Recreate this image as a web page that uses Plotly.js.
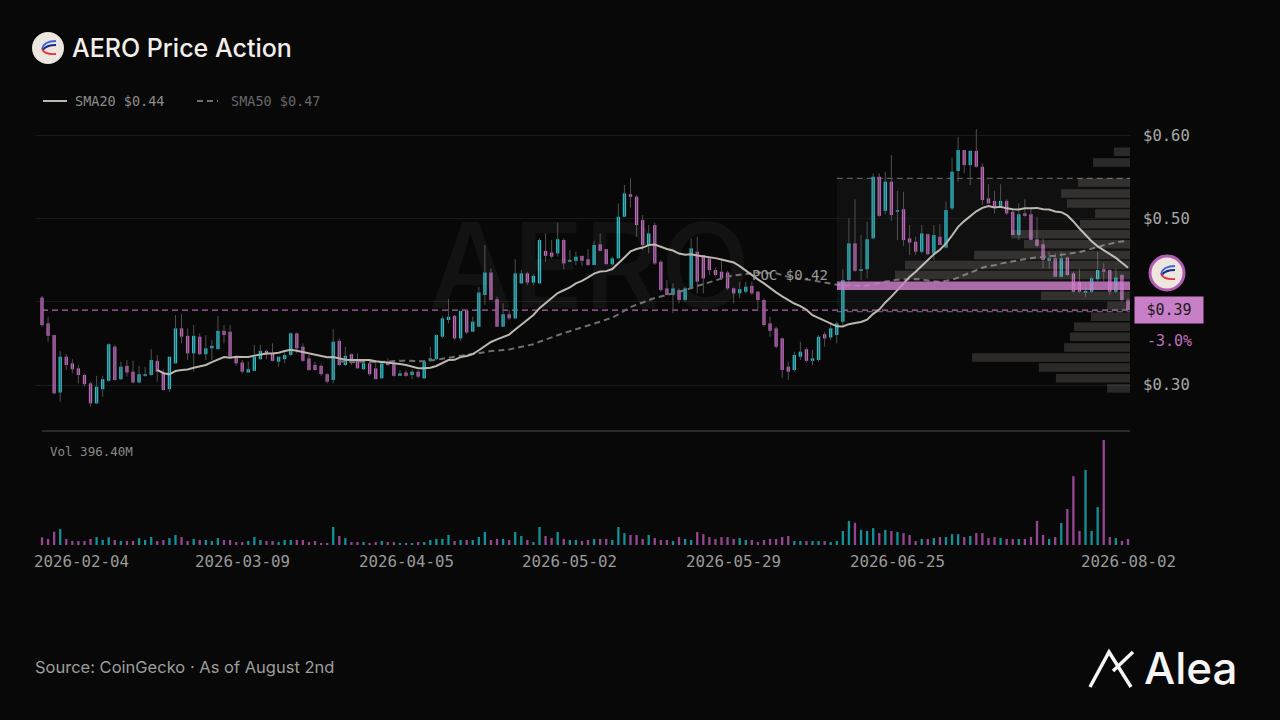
<!DOCTYPE html>
<html><head><meta charset="utf-8">
<script src="https://cdn.plot.ly/plotly-3.0.1.min.js"></script>
<style>html,body{margin:0;padding:0;background:#080808;}#chart{width:1280px;height:720px;}</style>
</head><body><div id="chart"></div>
<script>
// ---------- data ----------
const startDate = '2026-02-04';
const open = [.405,.374,.360,.291,.334,.326,.320,.312,.302,.278,
.295,.305,.346,.307,.323,.316,.303,.311,.312,.329,
.315,.295,.326,.368,.359,.338,.358,.337,.344,.343,
.365,.364,.334,.327,.315,.317,.331,.341,.338,.328,
.331,.336,.362,.346,.332,.324,.323,.313,.306,.353,
.324,.337,.331,.319,.326,.320,.308,.328,.326,.311,
.315,.312,.316,.308,.329,.331,.358,.378,.383,.356,
.389,.364,.370,.408,.435,.403,.370,.385,.380,.422,
.434,.423,.422,.461,.459,.458,.474,.448,.449,.455,
.451,.444,.469,.463,.445,.452,.502,.529,.526,.498,
.468,.492,.448,.416,.408,.414,.402,.416,.460,.456,
.452,.438,.436,.435,.416,.410,.412,.419,.412,.402,
.374,.368,.356,.322,.318,.334,.343,.329,.330,.361,
.357,.360,.376,.426,.470,.437,.439,.476,.550,.509,
.544,.508,.511,.476,.472,.460,.481,.458,.478,.465,
.512,.557,.582,.564,.581,.562,.524,.521,.515,.521,
.508,.480,.506,.505,.475,.469,.449,.452,.430,.453,
.434,.424,.411,.412,.427,.439,.438,.412,.432,.402];
const high = [.407,.382,.360,.341,.337,.331,.324,.314,.304,.311,
.311,.350,.348,.328,.330,.329,.323,.322,.343,.336,
.319,.334,.384,.385,.368,.372,.362,.360,.354,.383,
.372,.372,.334,.330,.328,.348,.348,.342,.350,.334,
.340,.363,.363,.350,.336,.328,.325,.314,.367,.356,
.346,.338,.338,.330,.329,.328,.328,.332,.329,.318,
.318,.319,.318,.330,.346,.361,.383,.403,.384,.389,
.390,.382,.418,.468,.440,.406,.398,.390,.451,.438,
.436,.433,.476,.482,.474,.495,.476,.462,.460,.455,
.463,.473,.482,.463,.454,.518,.540,.548,.528,.504,
.492,.495,.450,.426,.422,.416,.418,.476,.478,.456,
.454,.441,.450,.437,.417,.424,.424,.424,.413,.404,
.382,.370,.357,.328,.340,.352,.345,.342,.360,.364,
.374,.376,.439,.500,.523,.480,.496,.554,.554,.556,
.576,.533,.532,.492,.478,.492,.482,.492,.493,.520,
.573,.598,.582,.582,.607,.566,.541,.533,.541,.523,
.512,.518,.523,.512,.502,.476,.460,.458,.460,.454,
.436,.439,.424,.430,.460,.446,.439,.440,.434,.404];
const low = [.370,.352,.289,.280,.318,.314,.302,.298,.274,.277,
.286,.304,.305,.306,.310,.302,.302,.310,.311,.304,
.293,.292,.326,.350,.330,.316,.336,.330,.330,.343,
.350,.334,.323,.314,.315,.317,.330,.331,.328,.322,
.326,.335,.338,.328,.317,.317,.311,.302,.302,.323,
.323,.324,.320,.318,.311,.307,.308,.323,.310,.311,
.310,.307,.308,.307,.328,.330,.356,.374,.354,.353,
.361,.364,.370,.396,.402,.370,.370,.378,.380,.422,
.420,.420,.422,.448,.452,.454,.439,.448,.444,.443,
.443,.444,.461,.445,.443,.452,.502,.513,.478,.462,
.458,.444,.412,.408,.386,.398,.400,.414,.410,.410,
.432,.430,.426,.414,.398,.404,.410,.408,.391,.370,
.358,.344,.308,.306,.316,.330,.327,.324,.328,.346,
.354,.350,.372,.424,.436,.426,.428,.476,.502,.505,
.497,.474,.467,.456,.456,.458,.456,.450,.468,.464,
.510,.544,.554,.540,.561,.516,.518,.506,.514,.504,
.480,.474,.502,.474,.466,.440,.440,.430,.429,.431,
.411,.410,.406,.411,.424,.424,.408,.410,.400,.388];
const close = [.372,.359,.290,.334,.324,.319,.312,.301,.278,.298,
.307,.349,.306,.322,.315,.303,.313,.313,.330,.316,
.294,.334,.368,.358,.338,.359,.337,.344,.347,.365,
.360,.334,.326,.316,.319,.334,.341,.337,.329,.334,
.336,.362,.344,.329,.318,.318,.313,.304,.352,.324,
.335,.330,.320,.326,.313,.307,.326,.324,.311,.314,
.311,.316,.310,.328,.332,.360,.380,.382,.356,.389,
.363,.376,.411,.435,.402,.370,.385,.380,.434,.434,
.423,.431,.474,.455,.454,.475,.446,.450,.454,.449,
.444,.468,.461,.445,.452,.502,.530,.526,.492,.468,
.482,.446,.414,.408,.416,.402,.416,.464,.424,.428,
.438,.432,.428,.416,.410,.415,.418,.410,.402,.372,
.365,.346,.318,.316,.336,.340,.329,.332,.358,.356,
.368,.374,.426,.470,.437,.439,.475,.550,.503,.544,
.504,.509,.474,.471,.460,.482,.457,.480,.468,.510,
.556,.582,.564,.581,.562,.522,.518,.514,.521,.506,
.480,.505,.503,.474,.467,.450,.452,.430,.452,.432,
.412,.412,.413,.428,.438,.436,.412,.429,.402,.390];
// daily volume, millions
const volume = [29,23,50,60,23,15,15,15,23,30,
19,29,19,15,15,15,26,19,30,15,
19,26,38,30,15,23,19,19,15,26,
19,19,11,11,15,30,19,15,15,11,
19,19,19,19,11,15,7.5,7.5,68,34,
26,11,11,11,7.5,11,15,11,11,7.5,
7.5,7.5,11,11,19,23,23,38,15,19,
19,19,30,49,19,23,23,19,49,34,
19,11,68,34,26,49,23,19,19,15,
19,23,23,23,19,68,45,38,38,23,
38,26,19,19,15,30,23,19,49,41,
30,23,30,30,23,26,19,19,11,19,
23,23,30,34,15,15,15,15,15,15,
11,15,53,91,84,57,53,64,45,57,
53,49,45,38,15,23,23,26,30,30,
41,41,30,34,45,45,26,30,26,23,
23,23,23,30,91,38,23,30,83,136,
260,53,283,53,143,396.4,30,26,15,23];
// volume profile (price bin centre, relative volume)
const profilePrice = [0.580,0.567,0.555,0.543,0.530,0.518,0.506,0.493,0.481,0.469,0.456,0.444,0.432,0.419,0.407,0.395,0.382,0.370,0.358,0.345,0.333,0.321,0.308,0.296];
const profileVol = [5.5,12.6,0,17.7,23.5,21.5,11.9,17.1,40.6,36.2,53.2,76.8,80.2,100,30.4,7.8,13.3,19.1,20.5,22.5,53.9,31.1,25.3,7.8];
const tickDates = ['2026-02-04','2026-03-09','2026-04-05','2026-05-02','2026-05-29','2026-06-25','2026-08-02'];
const priceTicks = [0.30,0.40,0.50,0.60];
const priceTickText = ['$0.30','','$0.50','$0.60'];
const lastPrice = 0.39;
const changeText = '-3.0%';
const pocLabel = 'POC $0.42';
const valueAreaHigh = 0.548, valueAreaLow = 0.388;
const valueAreaStart = '2026-06-15';
const sma20Label = 'SMA20 $0.44', sma50Label = 'SMA50 $0.47';
const volLabel = 'Vol 396.40M';

// ---------- derived ----------
const DAY = 86400000;
const d0 = Date.parse(startDate + 'T00:00:00Z');
const dates = close.map((_, i) => new Date(d0 + i * DAY).toISOString().slice(0, 10));
const up = close.map((c, i) => c >= open[i]);
function sma(arr, n) { return arr.map((v, i) => i < n - 1 ? null : arr.slice(i - n + 1, i + 1).reduce((a, b) => a + b, 0) / n); }
const sma20 = sma(close, 20), sma50 = sma(close, 50);
const wx = [], wy = [];
dates.forEach((d, i) => { wx.push(d, d, null); wy.push(low[i], high[i], null); });
const bodyBase = open.map((o, i) => Math.min(o, close[i]));
const bodyLen = open.map((o, i) => Math.max(Math.abs(close[i] - o), 0.0018));
const CY = '#1cc3cf', PK = '#c462bf';
const pocIdx = profileVol.indexOf(Math.max(...profileVol));

// ---------- layout geometry ----------
const W = 1280, H = 720, ML = 36, MR = 150, MT = 120, MB = 175;
const PW = W - ML - MR, PH = H - MT - MB;
const px = x => (x - ML) / PW;
const py = y => (H - MB - y) / PH;
const xRange = [new Date(d0 - 0.989 * DAY).toISOString(), new Date(d0 + 179.33 * DAY).toISOString()];
const MONO = 'DejaVu Sans Mono';
const SANS = 'Inter';

const data = [
  {type: 'scatter', mode: 'lines', x: wx, y: wy, xaxis: 'x', yaxis: 'y', line: {color: '#505050', width: 1}, hoverinfo: 'skip'},
  {type: 'bar', x: dates, y: bodyLen, base: bodyBase, xaxis: 'x', yaxis: 'y', width: 0.55 * DAY,
   marker: {color: up.map(u => u ? CY : PK), line: {width: 0}}},
  {type: 'scatter', mode: 'lines', x: dates, y: sma50, xaxis: 'x', yaxis: 'y', line: {color: '#6e6e6e', width: 2, dash: '6px,4px'}},
  {type: 'scatter', mode: 'lines', x: dates, y: sma20, xaxis: 'x', yaxis: 'y', line: {color: '#bcb7af', width: 2}},
  {type: 'bar', x: dates, y: volume, xaxis: 'x', yaxis: 'y2', width: 0.38 * DAY,
   marker: {color: up.map(u => u ? 'rgba(22,180,190,0.8)' : 'rgba(185,85,180,0.8)'), line: {width: 0}}},
  {type: 'bar', orientation: 'h', x: profileVol, y: profilePrice, xaxis: 'x3', yaxis: 'y', width: 0.0102,
   marker: {color: profileVol.map((v, i) => i === pocIdx ? 'rgba(206,128,202,0.82)' : 'rgba(225,215,205,0.17)'), line: {width: 0}}}
];

function logoShapes(cx, cy) {
  const P = (x, y) => px(x) + ',' + py(y);
  return [
    {type: 'path', xref: 'paper', yref: 'paper', path: 'M ' + P(cx + 8, cy - 7) + ' Q ' + P(cx - 4, cy - 7) + ' ' + P(cx - 6, cy + 1), line: {color: '#3d66e0', width: 1.8}},
    {type: 'path', xref: 'paper', yref: 'paper', path: 'M ' + P(cx + 8, cy - 3) + ' Q ' + P(cx - 2, cy - 3) + ' ' + P(cx - 5, cy + 2), line: {color: '#1b2c80', width: 1.8}},
    {type: 'path', xref: 'paper', yref: 'paper', path: 'M ' + P(cx + 8, cy + 6) + ' Q ' + P(cx - 3, cy + 7) + ' ' + P(cx - 6, cy + 1), line: {color: '#e2363c', width: 1.8}}
  ];
}
const P = (x, y) => px(x) + ',' + py(y);

const shapes = [
  {type: 'rect', xref: 'x', yref: 'y', x0: valueAreaStart, x1: xRange[1], y0: valueAreaLow, y1: valueAreaHigh, fillcolor: 'rgba(255,255,255,0.035)', line: {width: 0}, layer: 'below'},
  {type: 'line', xref: 'x', yref: 'y', x0: valueAreaStart, x1: xRange[1], y0: valueAreaHigh, y1: valueAreaHigh, line: {color: '#5e5e5e', width: 1.2, dash: '6px,4px'}, layer: 'below'},
  {type: 'line', xref: 'x', yref: 'y', x0: valueAreaStart, x1: xRange[1], y0: valueAreaLow, y1: valueAreaLow, line: {color: '#5e5e5e', width: 1.2, dash: '6px,4px'}, layer: 'below'},
  {type: 'line', xref: 'paper', yref: 'y', x0: px(42), x1: 1, y0: lastPrice, y1: lastPrice, line: {color: '#b065ad', width: 1.2, dash: '6px,4px'}, layer: 'below'},
  {type: 'line', xref: 'paper', yref: 'paper', x0: px(42), x1: 1, y0: py(431), y1: py(431), line: {color: '#2b2b2b', width: 2}},
  {type: 'line', xref: 'paper', yref: 'paper', x0: px(43), x1: px(67), y0: py(101), y1: py(101), line: {color: '#bcb7af', width: 2}},
  {type: 'line', xref: 'paper', yref: 'paper', x0: px(197), x1: px(218), y0: py(101), y1: py(101), line: {color: '#6e6e6e', width: 2, dash: '6px,4px'}},
  {type: 'circle', xref: 'paper', yref: 'paper', x0: px(32), x1: px(64), y0: py(64), y1: py(32), fillcolor: '#ece6df', line: {width: 0}},
  ...logoShapes(48, 48),
  {type: 'circle', xref: 'paper', yref: 'paper', x0: px(1150), x1: px(1184), y0: py(290), y1: py(256), fillcolor: '#ece6df', line: {color: '#b35cb0', width: 3}},
  ...logoShapes(1167, 273),
  {type: 'path', xref: 'paper', yref: 'paper', path: 'M ' + P(1090, 687) + ' L ' + P(1109, 652) + ' L ' + P(1131, 687), line: {color: '#f5f5f5', width: 3.5}},
  {type: 'path', xref: 'paper', yref: 'paper', path: 'M ' + P(1113, 671) + ' L ' + P(1133, 652), line: {color: '#f5f5f5', width: 3.5}}
];

const ann = (o) => Object.assign({showarrow: false, xref: 'paper', yref: 'paper'}, o);
const annotations = [
  ann({text: 'AERO', x: px(590), y: py(265), xanchor: 'center', yanchor: 'middle', font: {family: SANS, size: 118, color: 'rgba(255,255,255,0.045)', weight: 500}}),
  ann({text: 'AERO Price Action', x: px(70), y: py(48), xanchor: 'left', yanchor: 'middle', font: {family: SANS, size: 25, color: '#f2efea', weight: 500}}),
  ann({text: sma20Label, x: px(73), y: py(101), xanchor: 'left', yanchor: 'middle', font: {family: MONO, size: 13.5, color: '#8c8c8c'}}),
  ann({text: sma50Label, x: px(229), y: py(101), xanchor: 'left', yanchor: 'middle', font: {family: MONO, size: 13.5, color: '#676767'}}),
  ann({text: volLabel, x: px(48), y: py(451), xanchor: 'left', yanchor: 'middle', font: {family: MONO, size: 12.5, color: '#8a8a8a'}}),
  ann({text: pocLabel, x: px(830), y: py(275), xanchor: 'right', yanchor: 'middle', font: {family: MONO, size: 14, color: '#9a9a9a'}}),
  ann({text: '$0.39', x: px(1134), yref: 'y', y: lastPrice, xanchor: 'left', yanchor: 'middle', font: {family: MONO, size: 15, color: '#1a1a1a'}, bgcolor: '#c97fc7', borderpad: 4, width: 60}),
  ann({text: changeText, x: px(1145), y: py(341), xanchor: 'left', yanchor: 'middle', font: {family: MONO, size: 15, color: '#c26dbe'}}),
  ann({text: 'Source: CoinGecko · As of August 2nd', x: px(33), y: py(667), xanchor: 'left', yanchor: 'middle', font: {family: SANS, size: 16.5, color: '#9d9d9d'}}),
  ann({text: 'Alea', x: px(1142), y: py(668), xanchor: 'left', yanchor: 'middle', font: {family: SANS, size: 44, color: '#f5f5f5', weight: 500}})
];
tickDates.forEach((d, i) => {
  annotations.push(ann({text: d, xref: 'x', x: d, y: py(561), xanchor: i === 0 ? 'left' : 'center', xshift: i === 0 ? -10 : 0, yanchor: 'middle', font: {family: MONO, size: 15.8, color: '#9a9a9a'}}));
});

const layout = {
  width: W, height: H, margin: {l: ML, r: MR, t: MT, b: MB, pad: 0},
  paper_bgcolor: '#080808', plot_bgcolor: '#080808',
  showlegend: false, barmode: 'overlay', hovermode: false,
  xaxis: {type: 'date', range: xRange, domain: [0, 1], anchor: 'y2', showticklabels: false, showgrid: false, zeroline: false, showline: false, ticks: ''},
  xaxis3: {overlaying: 'x', anchor: 'y', range: [100 * PW / 293, 0], visible: false, showgrid: false, zeroline: false},
  yaxis: {domain: [py(430), 1], range: [0.2460, 0.6181], side: 'right', anchor: 'x', tickvals: priceTicks, ticktext: priceTickText,
          gridcolor: '#1a1a1a', gridwidth: 1, zeroline: false, showline: false, ticks: 'outside', ticklen: 9, tickcolor: 'rgba(0,0,0,0)',
          tickfont: {family: MONO, size: 15.5, color: '#a8a8a8'}},
  yaxis2: {domain: [0, py(440)], range: [0, 396.4], anchor: 'x', visible: false, showgrid: false, zeroline: false},
  shapes: shapes, annotations: annotations
};
Plotly.newPlot('chart', data, layout, {staticPlot: true, displayModeBar: false});
</script>
</body></html>
